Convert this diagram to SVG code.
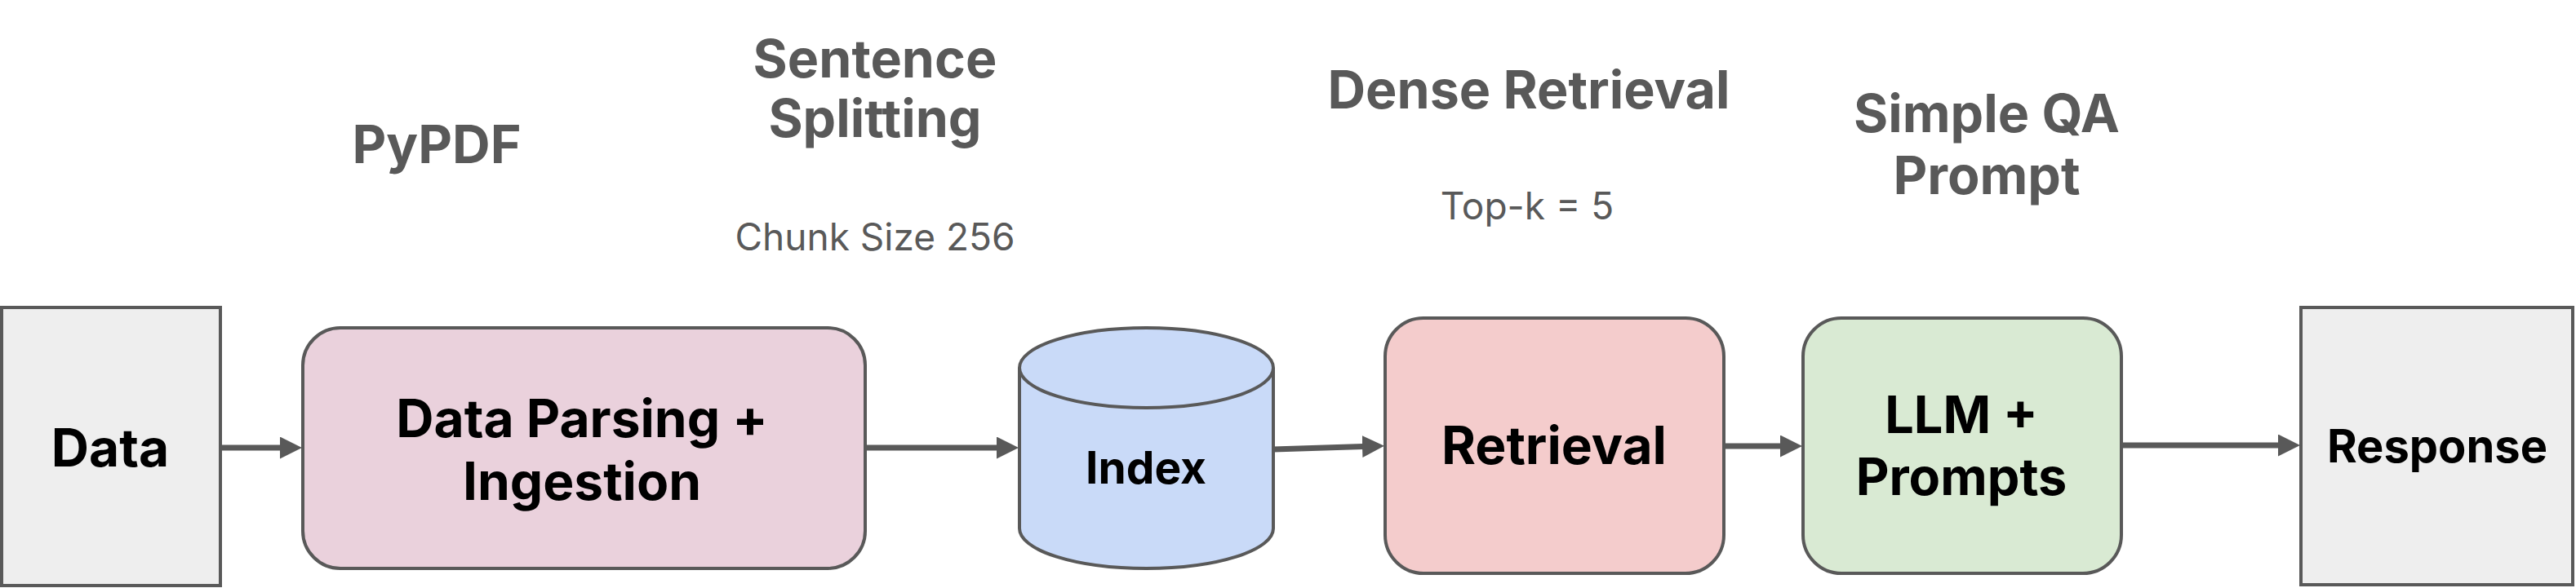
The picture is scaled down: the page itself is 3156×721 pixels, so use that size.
<svg xmlns="http://www.w3.org/2000/svg" width="3156" height="721" viewBox="0 0 3156 721">
<style>
.box{stroke:#595959;stroke-width:4}
.nt{font-family:Inter,"Liberation Sans",sans-serif;font-weight:700;fill:#000;text-anchor:middle}
.lb{font-family:Inter,"Liberation Sans",sans-serif;font-weight:700;fill:#595959;text-anchor:middle;font-size:64.5px}
.sm{font-family:Inter,"Liberation Sans",sans-serif;font-weight:400;fill:#595959;text-anchor:middle;font-size:46px}
.cn{stroke:#595959;stroke-width:7;fill:none;marker-end:url(#ah)}
</style>
<defs>
<marker id="ah" markerUnits="userSpaceOnUse" markerWidth="27" markerHeight="27" refX="1" refY="13.5" orient="auto" viewBox="0 0 27 27">
<path d="M0,0 L27,13.5 L0,27 z" fill="#595959"/>
</marker>
</defs>
<rect width="3156" height="721" fill="#fff"/>
<g id="labels">
<text class="lb" x="535" y="200">PyPDF</text>
<text class="lb" x="1072" y="95">Sentence</text>
<text class="lb" x="1072" y="168">Splitting</text>
<text class="sm" x="1072" y="307">Chunk Size 256</text>
<text class="lb" x="1873" y="133">Dense Retrieval</text>
<text class="sm" x="1871" y="269">Top-k = 5</text>
<text class="lb" x="2434" y="162">Simple QA</text>
<text class="lb" x="2434" y="238">Prompt</text>
</g>
<g id="connectors">
<line class="cn" x1="270" y1="549" x2="344" y2="549"/>
<line class="cn" x1="1060" y1="549" x2="1222" y2="549"/>
<line class="cn" x1="1560" y1="551" x2="1670" y2="547.5"/>
<line class="cn" x1="2112" y1="547" x2="2182" y2="547"/>
<line class="cn" x1="2599" y1="546" x2="2792" y2="546"/>
</g>
<g id="data">
<rect class="box" x="2" y="377" width="268" height="341" fill="#eeeeee"/>
<text class="nt" x="135" y="572" font-size="64">Data</text>
</g>
<g id="parsing">
<rect class="box" x="371" y="402" width="689" height="295" rx="46" ry="46" fill="#ead1dc"/>
<text class="nt" x="713" y="536" font-size="64">Data Parsing +</text>
<text class="nt" x="713" y="613" font-size="64">Ingestion</text>
</g>
<g id="index">
<path class="box" d="M1249,451 L1249,648 A155.5,49 0 0 0 1560,648 L1560,451" fill="#c9daf8"/>
<ellipse class="box" cx="1404.5" cy="451" rx="155.5" ry="49" fill="#c9daf8"/>
<text class="nt" x="1404" y="593" font-size="55">Index</text>
</g>
<g id="retrieval">
<rect class="box" x="1697" y="390" width="415" height="313" rx="47" ry="47" fill="#f4cccc"/>
<text class="nt" x="1904" y="569" font-size="64">Retrieval</text>
</g>
<g id="llm">
<rect class="box" x="2209" y="390" width="390" height="313" rx="47" ry="47" fill="#d9ead3"/>
<text class="nt" x="2403" y="531" font-size="63">LLM +</text>
<text class="nt" x="2403" y="607" font-size="63">Prompts</text>
</g>
<g id="response">
<rect class="box" x="2819" y="377" width="333" height="340" fill="#eeeeee"/>
<text class="nt" x="2986" y="567" font-size="56">Response</text>
</g>
</svg>
